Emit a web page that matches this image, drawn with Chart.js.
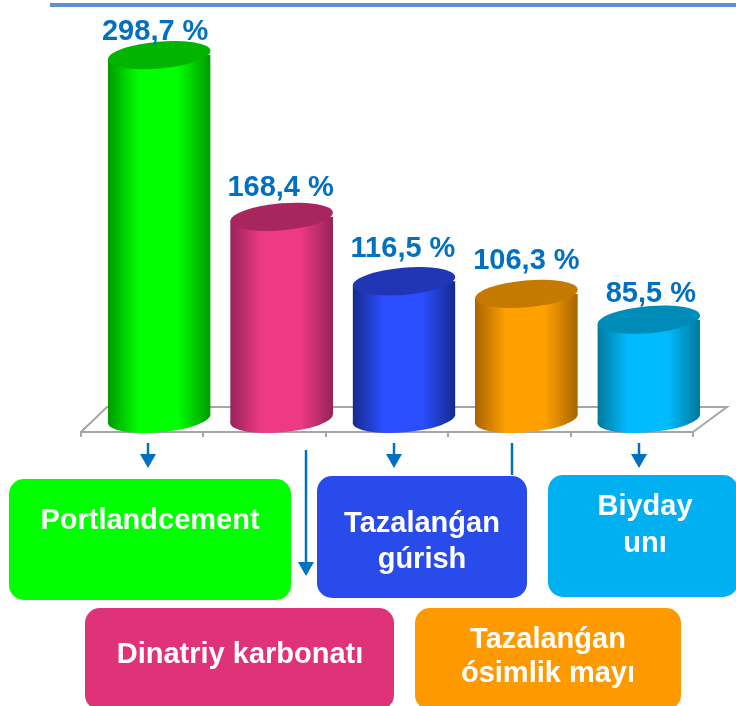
<!DOCTYPE html>
<html>
<head>
<meta charset="utf-8">
<style>
html, body { margin: 0; padding: 0; background: #fff; overflow: hidden; }
#wrap { position: relative; width: 736px; height: 706px; }
</style>
<script src="https://cdn.jsdelivr.net/npm/chart.js@4"></script>
</head>
<body>
<div id="wrap"><canvas id="myChart" width="736" height="706"></canvas></div>
<script>
var categories = ["Portlandcement", "Dinatriy karbonatı", "Tazalanǵan gúrish", "Tazalanǵan ósimlik mayı", "Biyday unı"];
var values = [298.7, 168.4, 116.5, 106.3, 85.5];
var valueLabels = ["298,7 %", "168,4 %", "116,5 %", "106,3 %", "85,5 %"];

// edge, middle and top ellipse colour of each cylinder
var darkColors = ['#009a00', '#96235a', '#152a8c', '#a86400', '#00789c'];
var midColors = ['#00ff00', '#ee3a84', '#2a4dff', '#ffa000', '#00bcff'];
var topColors = ['#00b400', '#a8265e', '#2036b4', '#c47a00', '#008cb8'];
var boxColors = ['#00ff00', '#df3278', '#2a4bec', '#ff9900', '#00b0f0'];

var DEPTH = 17;
var TILT = 4.5;
var blue = '#0070c0';

function cylGradient(g, x0, x1, i) {
    var grad = g.createLinearGradient(x0, 0, x1, 0);
    grad.addColorStop(0, darkColors[i]);
    grad.addColorStop(0.3, midColors[i]);
    grad.addColorStop(0.68, midColors[i]);
    grad.addColorStop(1, darkColors[i]);
    return grad;
}

function ellipse(g, cx, cy, rx) {
    g.beginPath();
    g.ellipse(cx, cy, rx, 13.5, -Math.atan2(TILT, rx), 0, Math.PI * 2);
}

function arrow(g, x, y0, y1) {
    g.strokeStyle = blue;
    g.fillStyle = blue;
    g.lineWidth = 2.5;
    g.beginPath();
    g.moveTo(x, y0);
    g.lineTo(x, y1 - 14);
    g.stroke();
    g.beginPath();
    g.moveTo(x - 8, y1 - 14);
    g.lineTo(x + 8, y1 - 14);
    g.lineTo(x, y1);
    g.fill();
}

var cylinders = {
    id: 'cylinders',
    beforeDatasetsDraw: function (chart) {
        // the floor behind the bars
        var g = chart.ctx, a = chart.chartArea;
        g.save();
        g.strokeStyle = '#a6a6a6';
        g.lineWidth = 2;
        g.beginPath();
        g.moveTo(a.left, a.bottom);
        g.lineTo(a.left + 26, a.bottom - 25);
        g.lineTo(a.right + 34, a.bottom - 25);
        g.lineTo(a.right, a.bottom);
        g.stroke();
        g.restore();
    },
    beforeDatasetDraw: function (chart, args) {
        var g = chart.ctx;
        var bars = chart.getDatasetMeta(args.index).data;
        g.save();
        g.translate(DEPTH, 0);
        g.beginPath();
        bars.forEach(function (b) {
            var base = b.base - 7;
            g.moveTo(b.x - b.width / 2, b.y + TILT);
            g.lineTo(b.x + b.width / 2, b.y - TILT);
            g.lineTo(b.x + b.width / 2, base - TILT);
            g.lineTo(b.x - b.width / 2, base + TILT);
            g.closePath();
        });
        g.clip();
    },
    afterDatasetDraw: function (chart, args) {
        var g = chart.ctx;
        var bars = chart.getDatasetMeta(args.index).data;
        g.restore();
        g.save();
        g.translate(DEPTH, 0);
        bars.forEach(function (b, i) {
            var rx = b.width / 2;
            ellipse(g, b.x, b.base - 7, rx);
            g.fillStyle = cylGradient(g, b.x - rx, b.x + rx, i);
            g.fill();
            ellipse(g, b.x, b.y, rx);
            g.fillStyle = topColors[i];
            g.fill();
        });
        g.restore();
    },
    afterDraw: function (chart) {
        var g = chart.ctx;
        var bars = chart.getDatasetMeta(0).data;
        var labelX = [-4, -1, -1, 0, 2];
        var labelY = [-15, -21, -24, -25, -18];

        g.save();
        g.fillStyle = '#5b8fd6';
        g.fillRect(50, 3, 686, 4);

        g.textAlign = 'center';
        g.textBaseline = 'alphabetic';
        g.font = 'bold 29px "Liberation Sans", Arial, sans-serif';
        g.fillStyle = blue;
        bars.forEach(function (b, i) {
            g.fillText(valueLabels[i], b.x + DEPTH + labelX[i], b.y + labelY[i]);
        });

        arrow(g, 148, 443, 468);
        arrow(g, 306, 450, 576);
        arrow(g, 394, 443, 468);
        arrow(g, 639, 443, 468);
        g.strokeStyle = blue;
        g.lineWidth = 2.5;
        g.beginPath();
        g.moveTo(512, 443);
        g.lineTo(512, 475);
        g.stroke();

        var boxes = [
            { x: 9, y: 479, w: 282, h: 121, tx: 150, lines: [["Portlandcement", 529]] },
            { x: 85, y: 608, w: 309, h: 102, tx: 240, lines: [["Dinatriy karbonatı", 663]] },
            { x: 317, y: 476, w: 210, h: 122, tx: 422, lines: [["Tazalanǵan", 532], ["gúrish", 568]] },
            { x: 415, y: 608, w: 266, h: 102, tx: 548, lines: [["Tazalanǵan", 648], ["ósimlik mayı", 682]] },
            { x: 548, y: 475, w: 190, h: 122, tx: 645, lines: [["Biyday", 515], ["unı", 552]] }
        ];
        boxes.forEach(function (box, i) {
            g.fillStyle = boxColors[i];
            g.beginPath();
            g.roundRect(box.x, box.y, box.w, box.h, 15);
            g.fill();
            g.fillStyle = '#fff';
            box.lines.forEach(function (l) {
                g.fillText(l[0], box.tx, l[1]);
            });
        });
        g.restore();
    }
};

var ctx = document.getElementById('myChart').getContext('2d');

var myChart = new Chart(ctx, {
    type: 'bar',
    data: {
        labels: categories,
        datasets: [{
            data: values,
            clip: false,
            barPercentage: 0.84,
            categoryPercentage: 1,
            backgroundColor: function (c) {
                var chart = c.chart;
                if (!chart.chartArea) return midColors[c.dataIndex];
                var w = chart.scales.x.width / categories.length * 0.84;
                var x = chart.scales.x.getPixelForValue(c.dataIndex);
                return cylGradient(chart.ctx, x - w / 2, x + w / 2, c.dataIndex);
            }
        }]
    },
    plugins: [cylinders],
    options: {
        responsive: false,
        animation: false,
        layout: { padding: { left: 81, right: 43, top: 20, bottom: 269 } },
        plugins: { legend: { display: false }, tooltip: { enabled: false } },
        scales: {
            x: {
                grid: { drawOnChartArea: false, offset: true, tickLength: 5, color: '#a6a6a6', lineWidth: 2 },
                border: { color: '#a6a6a6', width: 2 },
                ticks: { display: false }
            },
            y: {
                display: false,
                min: -5,
                max: 327
            }
        }
    }
});
</script>
</body>
</html>
